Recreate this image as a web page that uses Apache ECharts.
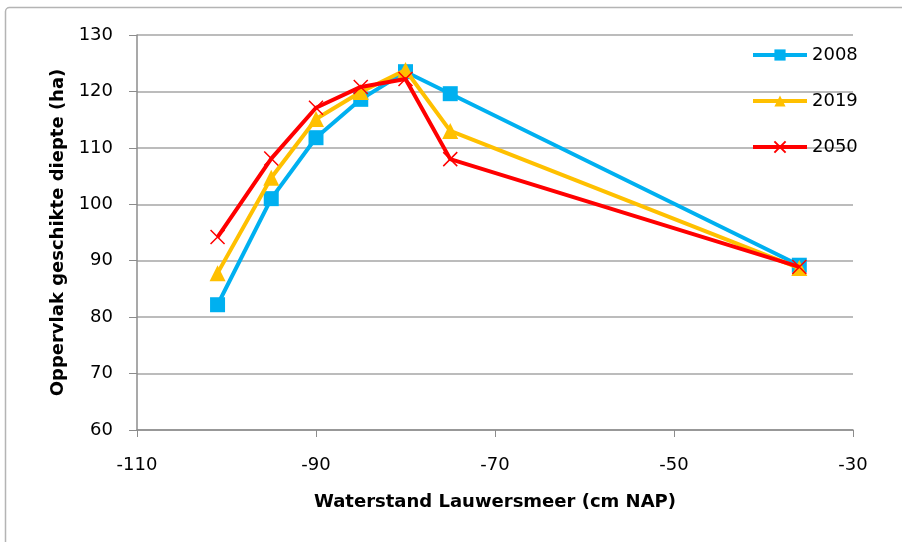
<!DOCTYPE html>
<html>
<head>
<meta charset="utf-8">
<script src="https://cdn.jsdelivr.net/npm/echarts@6/dist/echarts.min.js"></script>
<style>
  html, body { margin: 0; padding: 0; background: #fff; }
  #chart { width: 902px; height: 542px; }
</style>
</head>
<body>
<div id="chart"></div>
<script>
// Water level (cm NAP) at each measured point
const waterstand = [-101, -95, -90, -85, -80, -75, -36];
// Area with suitable depth (ha) per scenario year
const opp2008 = [82.2, 101.0, 111.8, 118.6, 123.5, 119.6, 89.2];
const opp2019 = [87.8, 104.7, 115.1, 119.9, 123.8, 113.0, 88.7];
const opp2050 = [94.2, 108.1, 117.1, 120.8, 122.2, 108.0, 88.9];
const seriesNames = ['2008', '2019', '2050'];

const font = "'DejaVu Sans', sans-serif";
const pairs = vals => waterstand.map((x, i) => [x, vals[i]]);

const chart = echarts.init(document.getElementById('chart'), null, { renderer: 'canvas' });

chart.setOption({
  animation: false,
  backgroundColor: '#ffffff',
  graphic: [{
    type: 'rect',
    shape: { x: 5.5, y: 7.5, width: 920, height: 560, r: 4 },
    style: { fill: 'none', stroke: '#b4b4b4', lineWidth: 1.5 },
    silent: true
  }],
  grid: { left: 137, right: 49, top: 35, bottom: 112 },
  legend: {
    orient: 'vertical',
    left: 746,
    top: 41,
    itemWidth: 54,
    itemHeight: 14,
    itemGap: 28,
    data: seriesNames,
    lineStyle: { width: 4 },
    textStyle: { fontFamily: font, fontSize: 18, color: '#000' }
  },
  xAxis: {
    type: 'value',
    min: -110,
    max: -30,
    interval: 20,
    name: 'Waterstand Lauwersmeer (cm NAP)',
    nameLocation: 'middle',
    nameGap: 63,
    nameTextStyle: { fontFamily: font, fontSize: 18, fontWeight: 'bold', color: '#000' },
    axisLine: { lineStyle: { color: '#8c8c8c', width: 1.5 } },
    axisTick: { show: true, length: 7, lineStyle: { color: '#8c8c8c' } },
    axisLabel: { fontFamily: font, fontSize: 18, color: '#000', margin: 26 },
    splitLine: { show: false }
  },
  yAxis: {
    type: 'value',
    min: 60,
    max: 130,
    interval: 10,
    name: 'Oppervlak geschikte diepte (ha)',
    nameLocation: 'middle',
    nameGap: 64,
    nameTextStyle: { fontFamily: font, fontSize: 18, fontWeight: 'bold', color: '#000' },
    axisLine: { show: true, lineStyle: { color: '#8c8c8c', width: 1.5 } },
    axisTick: { show: true, length: 8, lineStyle: { color: '#8c8c8c' } },
    axisLabel: { fontFamily: font, fontSize: 18, color: '#000', margin: 24 },
    splitLine: { lineStyle: { color: '#a6a6a6', width: 1.5 } }
  },
  series: [
    {
      name: seriesNames[0],
      type: 'line',
      data: pairs(opp2008),
      symbol: 'rect',
      symbolSize: 15,
      lineStyle: { color: '#00b0f0', width: 4 },
      itemStyle: { color: '#00b0f0' },
      z: 2
    },
    {
      name: seriesNames[1],
      type: 'line',
      data: pairs(opp2019),
      symbol: 'triangle',
      symbolSize: 16,
      lineStyle: { color: '#ffc000', width: 4 },
      itemStyle: { color: '#ffc000' },
      z: 3
    },
    {
      name: seriesNames[2],
      type: 'line',
      data: pairs(opp2050),
      symbol: 'path://M0,0L10,10M10,0L0,10',
      symbolSize: 14,
      lineStyle: { color: '#ff0000', width: 4 },
      itemStyle: { color: 'none', borderColor: '#ff0000', borderWidth: 1.5 },
      z: 4
    }
  ]
});
</script>
</body>
</html>
